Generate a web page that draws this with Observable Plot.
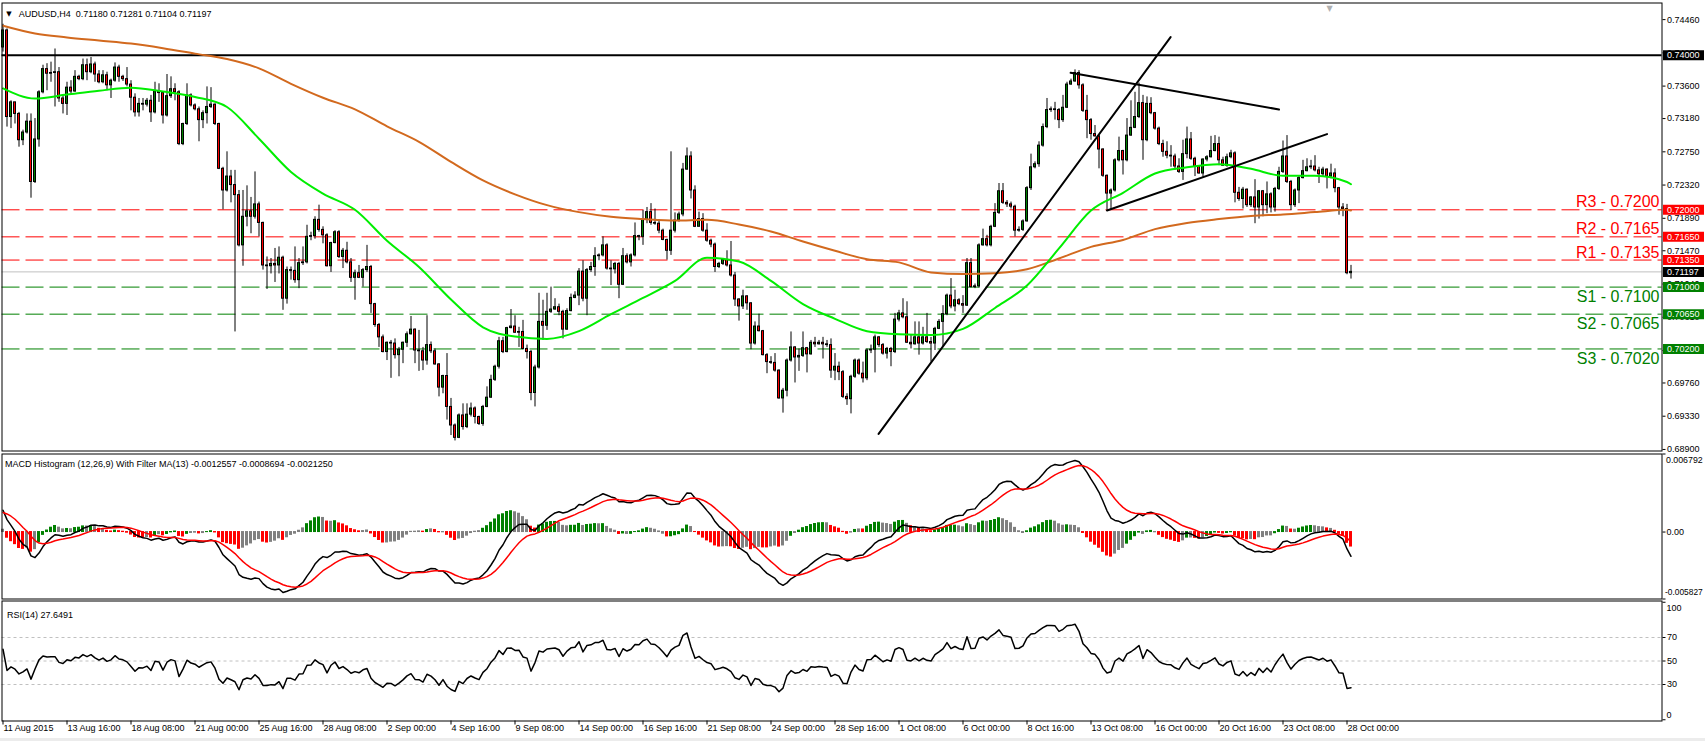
<!DOCTYPE html>
<html>
<head>
<meta charset="utf-8">
<script src="https://cdn.jsdelivr.net/npm/d3@7"></script>
<script src="https://cdn.jsdelivr.net/npm/@observablehq/plot@0.6"></script>
<style>
  html, body { margin: 0; padding: 0; background: #ffffff; overflow: hidden; }
  #chart { position: relative; width: 1705px; height: 741px; overflow: hidden; background: #ffffff; }
  #chart > svg { position: absolute; left: 0; }
  #strip { position: absolute; left: 0; top: 738px; width: 1705px; height: 3px; background: #ececec; }
</style>
</head>
<body>
<div id="chart"><div id="strip"></div></div>
<script>
// ---------------- DATA ----------------
const symbol = "AUDUSD,H4";
const firstOpen = 0.7410;
const closes = [
0.7432,0.7320,0.7339,0.7324,0.7290,0.7300,0.7314,0.7236,0.7291,0.7352,0.7382,0.7376,0.7377,0.7378,0.7344,0.7337,
0.7358,0.7353,0.7372,0.7369,0.7387,0.7378,0.7388,0.7375,0.7365,0.7374,0.7361,0.7367,0.7384,0.7372,0.7369,0.7362,
0.7345,0.7326,0.7337,0.7336,0.7341,0.7326,0.7353,0.7351,0.7322,0.7347,0.7356,0.7352,0.7285,0.7311,0.7348,0.7335,
0.7330,0.7316,0.7325,0.7333,0.7336,0.7311,0.7253,0.7225,0.7243,0.7232,0.7219,0.7154,0.7191,0.7198,0.7191,0.7207,
0.7183,0.7128,0.7127,0.7130,0.7128,0.7138,0.7085,0.7122,0.7121,0.7109,0.7131,0.7132,0.7165,0.7166,0.7187,0.7174,
0.7167,0.7127,0.7157,0.7171,0.7139,0.7147,0.7132,0.7112,0.7118,0.7112,0.7122,0.7126,0.7078,0.7051,0.7035,0.7016,
0.7028,0.7027,0.7012,0.7019,0.7028,0.7039,0.7045,0.7018,0.7017,0.7005,0.7025,0.7017,0.7000,0.6970,0.6985,0.6945,
0.6921,0.6905,0.6934,0.6919,0.6935,0.6943,0.6932,0.6923,0.6945,0.6957,0.6980,0.6997,0.7030,0.7016,0.7047,0.7049,
0.7041,0.7042,0.7020,0.7016,0.6963,0.6996,0.7055,0.7050,0.7068,0.7071,0.7074,0.7068,0.7045,0.7069,0.7086,0.7089,
0.7120,0.7085,0.7122,0.7126,0.7140,0.7141,0.7154,0.7124,0.7123,0.7130,0.7103,0.7140,0.7132,0.7141,0.7166,0.7165,
0.7187,0.7197,0.7183,0.7182,0.7173,0.7161,0.7147,0.7173,0.7186,0.7194,0.7252,0.7269,0.7225,0.7178,0.7188,0.7173,
0.7160,0.7155,0.7126,0.7130,0.7135,0.7128,0.7115,0.7084,0.7075,0.7088,0.7079,0.7027,0.7049,0.7043,0.7012,0.7003,
0.7002,0.6992,0.6956,0.6966,0.7005,0.7022,0.7009,0.7011,0.7021,0.7013,0.7028,0.7026,0.7028,0.7026,0.7025,0.6992,
0.6997,0.6990,0.6958,0.6955,0.6984,0.7005,0.6988,0.6982,0.7018,0.7019,0.7035,0.7025,0.7014,0.7020,0.7016,0.7058,
0.7066,0.7061,0.7028,0.7026,0.7035,0.7027,0.7035,0.7029,0.7027,0.7046,0.7055,0.7065,0.7089,0.7075,0.7083,0.7078,
0.7076,0.7131,0.7100,0.7101,0.7154,0.7162,0.7154,0.7178,0.7196,0.7224,0.7209,0.7207,0.7204,0.7173,0.7174,0.7185,
0.7228,0.7255,0.7259,0.7283,0.7307,0.7329,0.7330,0.7329,0.7316,0.7332,0.7362,0.7366,0.7377,0.7361,0.7328,0.7316,
0.7298,0.7295,0.7278,0.7244,0.7221,0.7225,0.7264,0.7276,0.7264,0.7296,0.7306,0.7320,0.7338,0.7290,0.7337,0.7325,
0.7305,0.7285,0.7275,0.7270,0.7269,0.7256,0.7249,0.7272,0.7291,0.7266,0.7256,0.7247,0.7265,0.7268,0.7276,0.7285,
0.7264,0.7257,0.7268,0.7273,0.7222,0.7214,0.7226,0.7206,0.7216,0.7203,0.7224,0.7206,0.7220,0.7203,0.7227,0.7249,
0.7269,0.7236,0.7206,0.7225,0.7241,0.7250,0.7255,0.7256,0.7251,0.7246,0.7252,0.7243,0.7247,0.7228,0.7203,0.7201,
0.7118,0.71197];
const highs = [
0.7440,0.7434,0.7341,0.7339,0.7326,0.7303,0.7324,0.7324,0.7318,0.7354,0.7387,0.7389,0.7391,0.7408,0.7384,0.7348,
0.7365,0.7367,0.7380,0.7374,0.7395,0.7395,0.7397,0.7391,0.7380,0.7380,0.7378,0.7369,0.7390,0.7387,0.7374,0.7384,
0.7367,0.7350,0.7344,0.7344,0.7344,0.7348,0.7365,0.7363,0.7352,0.7375,0.7372,0.7363,0.7354,0.7312,0.7363,0.7350,
0.7337,0.7333,0.7328,0.7359,0.7358,0.7337,0.7312,0.7255,0.7275,0.7251,0.7251,0.7225,0.7225,0.7231,0.7216,0.7249,
0.7210,0.7184,0.7139,0.7137,0.7150,0.7152,0.7140,0.7126,0.7126,0.7152,0.7137,0.7152,0.7180,0.7171,0.7191,0.7206,
0.7178,0.7169,0.7158,0.7173,0.7173,0.7150,0.7158,0.7137,0.7122,0.7128,0.7124,0.7154,0.7128,0.7079,0.7053,0.7038,
0.7029,0.7031,0.7033,0.7022,0.7029,0.7042,0.7062,0.7046,0.7044,0.7022,0.7063,0.7029,0.7020,0.7001,0.6986,0.7014,
0.6956,0.6923,0.6936,0.6949,0.6949,0.6950,0.6945,0.6933,0.6947,0.6971,0.6986,0.6999,0.7035,0.7035,0.7048,0.7071,
0.7063,0.7048,0.7057,0.7025,0.7018,0.6999,0.7092,0.7083,0.7092,0.7100,0.7085,0.7078,0.7070,0.7072,0.7091,0.7094,
0.7124,0.7134,0.7124,0.7132,0.7151,0.7143,0.7165,0.7156,0.7134,0.7132,0.7132,0.7150,0.7143,0.7143,0.7183,0.7167,
0.7199,0.7203,0.7208,0.7201,0.7187,0.7175,0.7162,0.7275,0.7196,0.7197,0.7260,0.7280,0.7275,0.7231,0.7197,0.7195,
0.7182,0.7162,0.7157,0.7132,0.7137,0.7147,0.7159,0.7119,0.7085,0.7096,0.7089,0.7080,0.7055,0.7065,0.7044,0.7014,
0.7010,0.7014,0.6993,0.6969,0.7007,0.7042,0.7023,0.7020,0.7042,0.7022,0.7031,0.7035,0.7031,0.7035,0.7031,0.7033,
0.7014,0.7003,0.6992,0.6962,0.6986,0.7007,0.7007,0.7003,0.7020,0.7025,0.7038,0.7036,0.7027,0.7022,0.7022,0.7066,
0.7070,0.7085,0.7081,0.7038,0.7055,0.7055,0.7048,0.7066,0.7035,0.7048,0.7058,0.7076,0.7091,0.7111,0.7096,0.7085,
0.7089,0.7137,0.7137,0.7104,0.7156,0.7175,0.7167,0.7180,0.7208,0.7234,0.7234,0.7212,0.7210,0.7206,0.7178,0.7187,
0.7230,0.7272,0.7262,0.7288,0.7311,0.7344,0.7333,0.7339,0.7331,0.7348,0.7365,0.7369,0.7381,0.7380,0.7363,0.7348,
0.7318,0.7309,0.7296,0.7279,0.7245,0.7227,0.7266,0.7294,0.7277,0.7318,0.7341,0.7352,0.7364,0.7348,0.7346,0.7345,
0.7326,0.7307,0.7290,0.7288,0.7283,0.7272,0.7266,0.7290,0.7307,0.7300,0.7268,0.7257,0.7266,0.7270,0.7295,0.7296,
0.7294,0.7268,0.7272,0.7277,0.7275,0.7229,0.7229,0.7227,0.7217,0.7239,0.7225,0.7225,0.7236,0.7222,0.7229,0.7255,
0.7289,0.7296,0.7238,0.7227,0.7244,0.7264,0.7266,0.7264,0.7270,0.7255,0.7255,0.7253,0.7259,0.7253,0.7229,0.7208,
0.7207,0.71281];
const lows = [
0.7404,0.7307,0.7305,0.7311,0.7281,0.7283,0.7298,0.7215,0.7234,0.7281,0.7350,0.7354,0.7365,0.7333,0.7339,0.7324,
0.7322,0.7350,0.7352,0.7367,0.7367,0.7367,0.7376,0.7365,0.7363,0.7363,0.7354,0.7344,0.7365,0.7365,0.7366,0.7359,
0.7328,0.7320,0.7320,0.7328,0.7333,0.7313,0.7324,0.7339,0.7311,0.7320,0.7344,0.7341,0.7283,0.7283,0.7309,0.7333,
0.7328,0.7288,0.7305,0.7311,0.7331,0.7309,0.7252,0.7200,0.7223,0.7209,0.7042,0.7152,0.7127,0.7178,0.7169,0.7188,
0.7165,0.7122,0.7097,0.7117,0.7106,0.7117,0.7070,0.7078,0.7109,0.7105,0.7098,0.7128,0.7130,0.7160,0.7162,0.7171,
0.7156,0.7126,0.7119,0.7156,0.7137,0.7124,0.7130,0.7106,0.7083,0.7111,0.7100,0.7119,0.7066,0.7048,0.7022,0.7015,
0.7005,0.6982,0.7007,0.6984,0.7001,0.7022,0.7038,0.7001,0.6991,0.6992,0.6999,0.7014,0.6999,0.6958,0.6962,0.6928,
0.6908,0.6901,0.6904,0.6915,0.6917,0.6932,0.6923,0.6921,0.6920,0.6944,0.6956,0.6978,0.6994,0.7014,0.7015,0.7046,
0.7040,0.7022,0.7019,0.7007,0.6953,0.6945,0.6994,0.7031,0.7044,0.7066,0.7070,0.7063,0.7033,0.7044,0.7068,0.7085,
0.7076,0.7081,0.7063,0.7119,0.7114,0.7134,0.7139,0.7122,0.7102,0.7117,0.7085,0.7102,0.7130,0.7126,0.7139,0.7160,
0.7154,0.7182,0.7180,0.7180,0.7169,0.7160,0.7135,0.7141,0.7170,0.7184,0.7191,0.7251,0.7214,0.7177,0.7178,0.7171,
0.7158,0.7151,0.7119,0.7124,0.7128,0.7126,0.7113,0.7075,0.7056,0.7071,0.7070,0.7019,0.7025,0.7042,0.7011,0.6988,
0.7000,0.6990,0.6955,0.6937,0.6958,0.7003,0.6976,0.6991,0.7009,0.6989,0.7012,0.7022,0.7025,0.7007,0.7022,0.6982,
0.6979,0.6979,0.6956,0.6947,0.6936,0.6982,0.6986,0.6976,0.6979,0.7014,0.6989,0.7022,0.7012,0.7007,0.6997,0.7014,
0.7055,0.7059,0.7027,0.7020,0.7025,0.7012,0.7025,0.7027,0.7003,0.7018,0.7045,0.7022,0.7063,0.7072,0.7068,0.7076,
0.7066,0.7075,0.7099,0.7098,0.7099,0.7153,0.7152,0.7152,0.7177,0.7194,0.7207,0.7203,0.7201,0.7165,0.7171,0.7172,
0.7184,0.7225,0.7253,0.7255,0.7281,0.7305,0.7326,0.7316,0.7305,0.7313,0.7331,0.7361,0.7365,0.7356,0.7326,0.7292,
0.7290,0.7294,0.7253,0.7242,0.7200,0.7200,0.7223,0.7262,0.7245,0.7262,0.7295,0.7305,0.7318,0.7264,0.7288,0.7323,
0.7303,0.7283,0.7268,0.7266,0.7255,0.7251,0.7247,0.7238,0.7266,0.7264,0.7243,0.7246,0.7242,0.7262,0.7267,0.7275,
0.7257,0.7256,0.7255,0.7266,0.7209,0.7211,0.7201,0.7203,0.7203,0.7182,0.7188,0.7191,0.7195,0.7196,0.7197,0.7225,
0.7247,0.7234,0.7199,0.7203,0.7208,0.7240,0.7249,0.7252,0.7249,0.7234,0.7242,0.7227,0.7240,0.7222,0.7193,0.7191,
0.7116,0.71104];

// moving averages (green = fast, chocolate = slow), sampled every 8 bars
const maBars = [0,8,16,24,32,40,48,56,64,72,80,88,96,104,112,120,128,136,144,152,160,168,176,184,192,200,208,216,224,232,240,248,256,264,272,280,288,296,304,312,320,328,336,337];
const fastMA = [0.7357,0.7344,0.7349,0.7354,0.7358,0.7353,0.7346,0.7333,0.7292,0.7249,0.7221,0.7200,0.7160,0.7126,0.7084,0.7048,0.7036,0.7033,0.7043,0.7065,0.7086,0.7108,0.7138,0.7133,0.7108,0.7078,0.7059,0.7043,0.7039,0.7038,0.7046,0.7073,0.7102,0.7150,0.7199,0.7222,0.7247,0.7255,0.7259,0.7253,0.7244,0.7244,0.7236,0.7233];
const slowMA = [0.7438,0.7428,0.7423,0.7419,0.7415,0.7409,0.7402,0.7395,0.7383,0.7363,0.7345,0.7330,0.7308,0.7288,0.7262,0.7238,0.7220,0.7206,0.7197,0.7191,0.7188,0.7186,0.7187,0.7181,0.7172,0.7159,0.7147,0.7136,0.7132,0.7119,0.7117,0.7118,0.7123,0.7137,0.7152,0.7161,0.7175,0.7183,0.7188,0.7192,0.7194,0.7197,0.7200,0.7199];

// drawn trend lines: [startBar, endBar], [startPrice, endPrice]
const trendIds = ["uptrend", "triangle top", "triangle bottom"];
const trendBars = [[218.9, 291.9], [266.9, 319.0], [276.0, 331.0]];
const trendPrices = [[0.69102, 0.74234], [0.73772, 0.73298], [0.71991, 0.72979]];

// key levels
const levelNames = ["R3", "R2", "R1", "S1", "S2", "S3"];
const levelValues = [0.7200, 0.7165, 0.7135, 0.7100, 0.7065, 0.7020];
const levelKinds = ["resistance", "resistance", "resistance", "support", "support", "support"];
const roundLevel = 0.7400;
const bidPrice = 0.71197;

// axis ticks and labels
const priceTicks = [0.68900, 0.69330, 0.69760, 0.70180, 0.70610, 0.71040, 0.71470, 0.71890, 0.72320, 0.72750, 0.73180, 0.73600, 0.74030, 0.74460];
const timeLabelBars = [0,16,32,48,64,80,96,112,128,144,160,176,192,208,224,240,256,272,288,304,320,336];
const timeLabels = ["11 Aug 2015","13 Aug 16:00","18 Aug 08:00","21 Aug 00:00","25 Aug 16:00","28 Aug 08:00","2 Sep 00:00","4 Sep 16:00","9 Sep 08:00","14 Sep 00:00","16 Sep 16:00","21 Sep 08:00","24 Sep 00:00","28 Sep 16:00","1 Oct 08:00","6 Oct 00:00","8 Oct 16:00","13 Oct 08:00","16 Oct 00:00","20 Oct 16:00","23 Oct 08:00","28 Oct 00:00"];
const macdMax = 0.006792;
const macdMin = -0.005827;
const rsiLevels = [70, 50, 30];
const macdTitle = "MACD Histogram (12,26,9) With Filter MA(13) -0.0012557 -0.0008694 -0.0021250";
const rsiTitle = "RSI(14) 27.6491";

const macdFastSeed = 0.7405, macdSlowSeed = 0.7386, signalSeed = 0.0017;
const rsiGainSeed = 0.0012, rsiLossSeed = 0.0008;

// ---------------- TABLES ----------------
const opens = [firstOpen, ...closes.slice(0, -1)];
const bars = closes.map((c, i) => ({i, open: opens[i], high: highs[i], low: lows[i], close: c}));
const maRows = maBars.map((b, k) => ({i: b, fast: fastMA[k], slow: slowMA[k]}));
const trendRows = trendIds.flatMap((id, k) => [0, 1].map(j => ({id, i: trendBars[k][j], price: trendPrices[k][j]})));
const levels = levelNames.map((n, k) => ({name: n, value: levelValues[k], kind: levelKinds[k]}));

const BULL = "#008000", BEAR = "#ff0000", GRAY = "#808080";
const levelColor = {resistance: "#ff0000", support: "#008000"};
const markers = [
  {value: roundLevel, color: "#000000"},
  ...levels.map(l => ({value: l.value, color: levelColor[l.kind]})),
  {value: bidPrice, color: "#000000"}
];

// MACD (EMA 12/26, signal 9) and RSI(14) computed from the closes
const a12 = 2 / 13, a26 = 2 / 27, a9 = 2 / 10;
let e12 = macdFastSeed, e26 = macdSlowSeed, sig = signalSeed;
const macdRows = closes.map((c, i) => {
  if (i > 0) { e12 += a12 * (c - e12); e26 += a26 * (c - e26); }
  const m = e12 - e26;
  if (i > 0) sig += a9 * (m - sig);
  return {i, macd: m, signal: sig, hist: m - sig};
});
const filterMA = closes.map((c, i) => d3.mean(closes.slice(Math.max(0, i - 12), i + 1)));
macdRows.forEach((r, i) => {
  const rising = i === 0 ? true : r.hist > macdRows[i - 1].hist;
  r.color = rising ? (closes[i] > filterMA[i] ? BULL : GRAY) : (closes[i] < filterMA[i] ? BEAR : GRAY);
});
let ag = rsiGainSeed, al = rsiLossSeed;
const rsiRows = closes.map((c, i) => {
  if (i > 0) {
    const ch = c - closes[i - 1];
    ag = (ag * 13 + Math.max(ch, 0)) / 14;
    al = (al * 13 + Math.max(-ch, 0)) / 14;
  }
  return {i, rsi: 100 - 100 / (1 + ag / al)};
});

// ---------------- LAYOUT ----------------
const xDomain = [-0.25, 414.75];
const xEnd = xDomain[1];
const FONT = "'Liberation Sans', Arial, sans-serif";
const styleStr = `background: transparent; font-family: ${FONT}; font-size: 9px; color: #000; overflow: visible;`;
const last = bars[bars.length - 1];
const header = `${symbol}\u00a0\u00a0${last.open.toFixed(5)} ${last.high.toFixed(5)} ${last.low.toFixed(5)} ${last.close.toFixed(5)}`;

const mainPlot = Plot.plot({
  width: 1705, height: 452,
  marginLeft: 1.5, marginRight: 43.5, marginTop: 2.5, marginBottom: 1.5,
  style: styleStr,
  x: {domain: xDomain, axis: null},
  y: {domain: [0.6888, 0.74675], label: null},
  marks: [
    Plot.ruleY(levels, {y: "value", stroke: d => levelColor[d.kind], strokeDasharray: "18,6"}),
    Plot.ruleY([bidPrice], {stroke: "#c0c0c0"}),
    Plot.ruleY([roundLevel], {stroke: "#000", strokeWidth: 2}),
    Plot.ruleX(bars, {x: "i", y1: "low", y2: "high", stroke: "#000"}),
    Plot.rect(bars, {x1: d => d.i - 0.375, x2: d => d.i + 0.375, y1: "open", y2: "close", fill: "#000", insetTop: -0.5, insetBottom: -0.5}),
    Plot.rect(bars, {x1: d => d.i - 0.125, x2: d => d.i + 0.125, y1: "open", y2: "close", fill: d => d.close >= d.open ? BULL : BEAR, insetTop: 0.5, insetBottom: 0.5}),
    Plot.line(maRows, {x: "i", y: "slow", stroke: "#d2691e", strokeWidth: 2, curve: "monotone-x"}),
    Plot.line(maRows, {x: "i", y: "fast", stroke: "#00ee00", strokeWidth: 2, curve: "monotone-x"}),
    Plot.line(trendRows, {x: "i", y: "price", z: "id", stroke: "#000", strokeWidth: 2}),
    Plot.frame({stroke: "#000"}),
    Plot.axisY(priceTicks, {anchor: "right", tickSize: 3, tickPadding: 2, tickFormat: d => d.toFixed(5), label: null}),
    Plot.text(levels.filter(l => l.kind === "resistance"), {x: () => xEnd, y: "value", dx: -2.5, dy: -2.5, textAnchor: "end", lineAnchor: "bottom", fontSize: 16, fill: d => levelColor[d.kind], text: d => `${d.name} - ${d.value.toFixed(4)}`}),
    Plot.text(levels.filter(l => l.kind === "support"), {x: () => xEnd, y: "value", dx: -2.5, dy: 3.5, textAnchor: "end", lineAnchor: "top", fontSize: 16, fill: d => levelColor[d.kind], text: d => `${d.name} - ${d.value.toFixed(4)}`}),
    Plot.ruleY(markers, {x1: () => xEnd, x2: () => xEnd, y: "value", insetLeft: 1.5, insetRight: -42.5, strokeWidth: 10, stroke: d => d.color}),
    Plot.text(markers, {x: () => xEnd, y: "value", dx: 5, textAnchor: "start", fill: "#fff", text: d => d.value.toFixed(5)}),
    Plot.text(["\u25BC"], {frameAnchor: "top-left", dx: 6.9, dy: 7.8, fontSize: 7, textAnchor: "middle", fontFamily: "DejaVu Sans"}),
    Plot.text([header], {frameAnchor: "top-left", dx: 16.8, dy: 7.8, textAnchor: "start"}),
    Plot.text(["\u25BC"], {frameAnchor: "top-left", dx: 1327.5, dy: 2, fontSize: 8, textAnchor: "middle", fill: "#b0b0b0", fontFamily: "DejaVu Sans"})
  ]
});

const macdPlot = Plot.plot({
  width: 1705, height: 148,
  marginLeft: 1.5, marginRight: 43.5, marginTop: 1.5, marginBottom: 1.5,
  style: styleStr,
  x: {domain: xDomain, axis: null},
  y: {domain: [macdMin, macdMax], label: null},
  marks: [
    Plot.rect(macdRows, {x1: d => d.i - 0.375, x2: d => d.i + 0.375, y1: 0, y2: "hist", fill: d => d.color, insetTop: -0.5, insetBottom: -0.5}),
    Plot.line(macdRows, {x: "i", y: "macd", stroke: "#000"}),
    Plot.line(macdRows, {x: "i", y: "signal", stroke: "#ff0000"}),
    Plot.frame({stroke: "#000"}),
    Plot.axisY([macdMax, 0, macdMin], {anchor: "right", tickSize: 3, tickFormat: () => "", label: null}),
    Plot.text([macdMax], {x: () => xEnd, y: d => d, dx: 4, dy: 6.5, textAnchor: "start", fontSize: 8.8, text: d => d.toFixed(6)}),
    Plot.text([0], {x: () => xEnd, y: d => d, dx: 4.5, textAnchor: "start", text: () => "0.00"}),
    Plot.text([macdMin], {x: () => xEnd, y: d => d, dx: 3, dy: -6.5, textAnchor: "start", fontSize: 8.4, text: d => d.toFixed(6)}),
    Plot.text([macdTitle], {frameAnchor: "top-left", dx: 3, dy: 6.5, textAnchor: "start"})
  ]
});

const rsiPlot = Plot.plot({
  width: 1705, height: 141,
  marginLeft: 1.5, marginRight: 43.5, marginTop: 0.5, marginBottom: 20.5,
  style: styleStr,
  x: {domain: xDomain},
  y: {domain: [0, 100], range: [119.25, 1.75], label: null},
  marks: [
    Plot.ruleY(rsiLevels, {stroke: "#c0c0c0", strokeDasharray: "3,3"}),
    Plot.line(rsiRows, {x: "i", y: "rsi", stroke: "#000"}),
    Plot.frame({stroke: "#000"}),
    Plot.axisY(rsiLevels, {anchor: "right", tickSize: 3, tickPadding: 2, label: null}),
    Plot.axisY([100, 0], {anchor: "right", tickSize: 3, tickFormat: () => "", label: null}),
    Plot.text([100], {x: () => xEnd, y: d => d, dx: 4.5, dy: 6, textAnchor: "start", text: d => String(d)}),
    Plot.text([0], {x: () => xEnd, y: d => d, dx: 4.5, dy: -5, textAnchor: "start", text: d => String(d)}),
    Plot.axisX(timeLabelBars, {anchor: "bottom", tickSize: 4, tickFormat: () => "", label: null}),
    Plot.text(timeLabelBars, {x: d => d, frameAnchor: "bottom", dy: 10, dx: 0.5, textAnchor: "start", text: (d, i) => timeLabels[i]}),
    Plot.text([rsiTitle], {frameAnchor: "top-left", dx: 5, dy: 10.5, textAnchor: "start"})
  ]
});

const chart = document.getElementById("chart");
[[mainPlot, 0], [macdPlot, 452], [rsiPlot, 600]].forEach(([svg, top]) => {
  svg.style.position = "absolute";
  svg.style.left = "0px";
  svg.style.top = top + "px";
  chart.appendChild(svg);
});
</script>
</body>
</html>
